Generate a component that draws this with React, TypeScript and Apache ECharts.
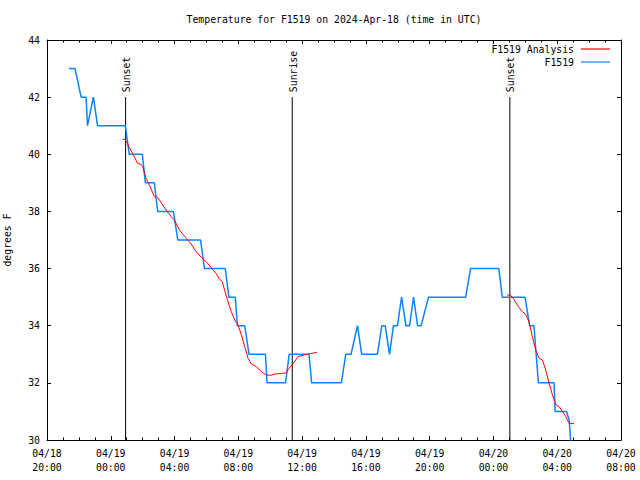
import React, { useEffect, useRef } from "react";
import * as echarts from "echarts";

// Hours since 04/18 20:00 UTC
const xTickLabels = [
  "04/18\n20:00", "04/19\n00:00", "04/19\n04:00", "04/19\n08:00", "04/19\n12:00",
  "04/19\n16:00", "04/19\n20:00", "04/20\n00:00", "04/20\n04:00", "04/20\n08:00",
];

const observedHours = [
  1.38, 1.76, 2.14, 2.45, 2.54, 2.91, 3.17, 4.91, 5.16, 5.98, 6.17, 6.73, 6.94, 7.93, 8.2,
  9.63, 9.88, 11.18, 11.41, 11.81, 11.94, 12.4, 12.67, 13.7, 13.8, 14.96, 15.19, 16.43, 16.6,
  18.46, 18.74, 19.07, 19.47, 19.74, 20.72, 21.0, 21.21, 21.48, 21.73, 21.98, 22.24, 22.51,
  22.74, 22.99, 23.24, 23.46, 23.93, 26.26, 26.56, 28.34, 28.55, 29.98, 30.27, 30.54, 30.82,
  31.8, 31.87, 32.58, 32.75, 32.85,
];
const observedTemps = [
  43, 43, 42, 42, 41, 42, 41, 41, 40, 40, 39, 39, 38, 38, 37,
  37, 36, 36, 35, 35, 34, 34, 33, 33, 32, 32, 33, 33, 32,
  32, 33, 33, 34, 33, 33, 34, 34, 33, 34, 34, 35, 34,
  34, 35, 34, 34, 35, 35, 36, 36, 35, 35, 34, 34, 32,
  32, 31, 31, 30.7, 29.9,
];

const analysisHours1 = [
  4.74, 4.91, 5.16, 5.37, 5.68, 5.9, 6.0, 6.21, 6.42, 6.73, 6.94, 7.16, 7.47, 7.79, 7.99,
  8.31, 8.73, 9.04, 9.36, 9.67, 9.99, 10.3, 10.62, 10.83, 10.99, 11.25, 11.56, 11.77, 11.98,
  12.19, 12.4, 12.61, 12.82, 13.13, 13.45, 13.76, 14.08, 14.29, 14.71, 14.98, 15.19, 15.44,
  15.75, 16.17, 16.6, 16.93,
];
const analysisTemps1 = [
  40.52, 40.52, 40.25, 40.03, 39.68, 39.65, 39.57, 39.16, 38.93, 38.52, 38.49, 38.31, 38.05, 37.82, 37.7,
  37.35, 37.06, 36.86, 36.59, 36.4, 36.24, 36.03, 35.82, 35.62, 35.54, 35.02, 34.49, 34.2, 34.03,
  33.68, 33.27, 32.86, 32.66, 32.57, 32.39, 32.27, 32.27, 32.31, 32.33, 32.35, 32.51, 32.68,
  32.92, 32.98, 33.03, 33.07,
];
const analysisHours2 = [
  28.87, 29.08, 29.28, 29.5, 29.81, 30.02, 30.23, 30.44, 30.65, 30.86, 31.07, 31.28, 31.49,
  31.7, 31.91, 32.12, 32.33, 32.54, 32.75, 33.06,
];
const analysisTemps2 = [
  35.08, 35.06, 34.93, 34.72, 34.49, 34.4, 34.14, 33.62, 33.15, 32.86, 32.8, 32.45, 31.98,
  31.58, 31.23, 31.17, 30.99, 30.82, 30.58, 30.58,
];

const sunEventHours = [4.93, 15.38, 29.03];
const sunEventNames = ["Sunset", "Sunrise", "Sunset"];
const sunLineTop = 42;
const sunLineBottom = 30;

const FONT = '"DejaVu Sans Mono", "Liberation Mono", monospace';
const FS = 9.8;

export default function App() {
  const ref = useRef<HTMLDivElement>(null);

  useEffect(() => {
    if (!ref.current) return;
    const chart = echarts.init(ref.current, undefined, { renderer: "svg" });

    const observed = observedHours.map((h, i) => [h, observedTemps[i]]);
    const analysis: any[] = analysisHours1.map((h, i) => [h, analysisTemps1[i]]);
    analysis.push([null, null]);
    analysisHours2.forEach((h, i) => analysis.push([h, analysisTemps2[i]]));

    const axisCommon = {
      type: "value" as const,
      min: 0,
      max: 36,
      interval: 4,
      axisLine: { show: true, onZero: false, lineStyle: { color: "#000", width: 1 } },
      axisTick: { show: true, inside: true, length: 4, lineStyle: { color: "#000" } },
      minorTick: { show: true, splitNumber: 4, length: 2.5, lineStyle: { color: "#000" } },
      splitLine: { show: false },
      minorSplitLine: { show: false },
    };
    const yCommon = {
      type: "value" as const,
      min: 30,
      max: 44,
      interval: 2,
      axisLine: { show: true, onZero: false, lineStyle: { color: "#000", width: 1 } },
      axisTick: { show: true, inside: true, length: 4, lineStyle: { color: "#000" } },
      splitLine: { show: false },
    };

    chart.setOption({
      animation: false,
      backgroundColor: "#fff",
      title: {
        text: "Temperature for F1519 on 2024-Apr-18 (time in UTC)",
        left: 334,
        textAlign: "center",
        top: 14,
        padding: 0,
        textStyle: { fontFamily: FONT, fontSize: FS, fontWeight: "normal", color: "#000" },
      },
      legend: [
        {
          data: ["F1519 Analysis"],
          right: 30,
          top: 44,
          padding: 0,
          align: "right",
          icon: "rect",
          itemWidth: 29,
          itemHeight: 1.2,
          textStyle: { fontFamily: FONT, fontSize: FS, color: "#000", padding: [0, 2, 0, 0] },
        },
        {
          data: ["F1519"],
          right: 30,
          top: 57,
          padding: 0,
          align: "right",
          icon: "rect",
          itemWidth: 29,
          itemHeight: 1.2,
          textStyle: { fontFamily: FONT, fontSize: FS, color: "#000", padding: [0, 2, 0, 0] },
        },
      ],
      grid: { left: 47, right: 19, top: 40, bottom: 40, containLabel: false, outerBoundsMode: "none" },
      xAxis: [
        {
          ...axisCommon,
          position: "bottom",
          axisLabel: {
            show: true,
            color: "#000",
            fontFamily: FONT,
            fontSize: FS,
            lineHeight: 14,
            margin: 6,
            formatter: (v: number) => xTickLabels[Math.round(v / 4)] ?? "",
          },
        },
        { ...axisCommon, position: "top", axisLabel: { show: false } },
      ],
      yAxis: [
        {
          ...yCommon,
          position: "left",
          name: "degrees F",
          nameLocation: "middle",
          nameGap: 35,
          nameTextStyle: { fontFamily: FONT, fontSize: FS, color: "#000" },
          axisLabel: { color: "#000", fontFamily: FONT, fontSize: FS, margin: 7 },
        },
        { ...yCommon, position: "right", axisLabel: { show: false } },
      ],
      series: [
        {
          name: "F1519",
          type: "line",
          data: observed,
          showSymbol: false,
          symbol: "none",
          lineStyle: { color: "#0a84ff", width: 1.5 },
          itemStyle: { color: "#0a84ff" },
          z: 2,
        },
        {
          name: "F1519 Analysis",
          type: "line",
          data: analysis,
          connectNulls: false,
          showSymbol: false,
          symbol: "none",
          lineStyle: { color: "#ff0000", width: 1 },
          itemStyle: { color: "#ff0000" },
          z: 3,
        },
        {
          name: "sun",
          type: "custom",
          data: sunEventHours.map((h) => [h, sunLineTop]),
          encode: { x: 0, y: 1 },
          z: 1,
          clip: false,
          renderItem: (params: any, api: any) => {
            const h = api.value(0);
            const top = api.coord([h, sunLineTop]);
            const bottom = api.coord([h, sunLineBottom]);
            return {
              type: "group",
              children: [
                {
                  type: "line",
                  shape: { x1: top[0], y1: top[1], x2: bottom[0], y2: bottom[1] },
                  style: { stroke: "#000", lineWidth: 1 },
                },
                {
                  type: "text",
                  x: top[0] + 1,
                  y: top[1] - 5,
                  rotation: Math.PI / 2,
                  style: {
                    text: sunEventNames[params.dataIndex],
                    fill: "#000",
                    font: `${FS}px ${FONT}`,
                    align: "left",
                    verticalAlign: "middle",
                  },
                },
              ],
            };
          },
        },
      ],
    });

    return () => chart.dispose();
  }, []);

  return <div ref={ref} style={{ width: 640, height: 480, position: "absolute", left: 0, top: 0 }} />;
}
